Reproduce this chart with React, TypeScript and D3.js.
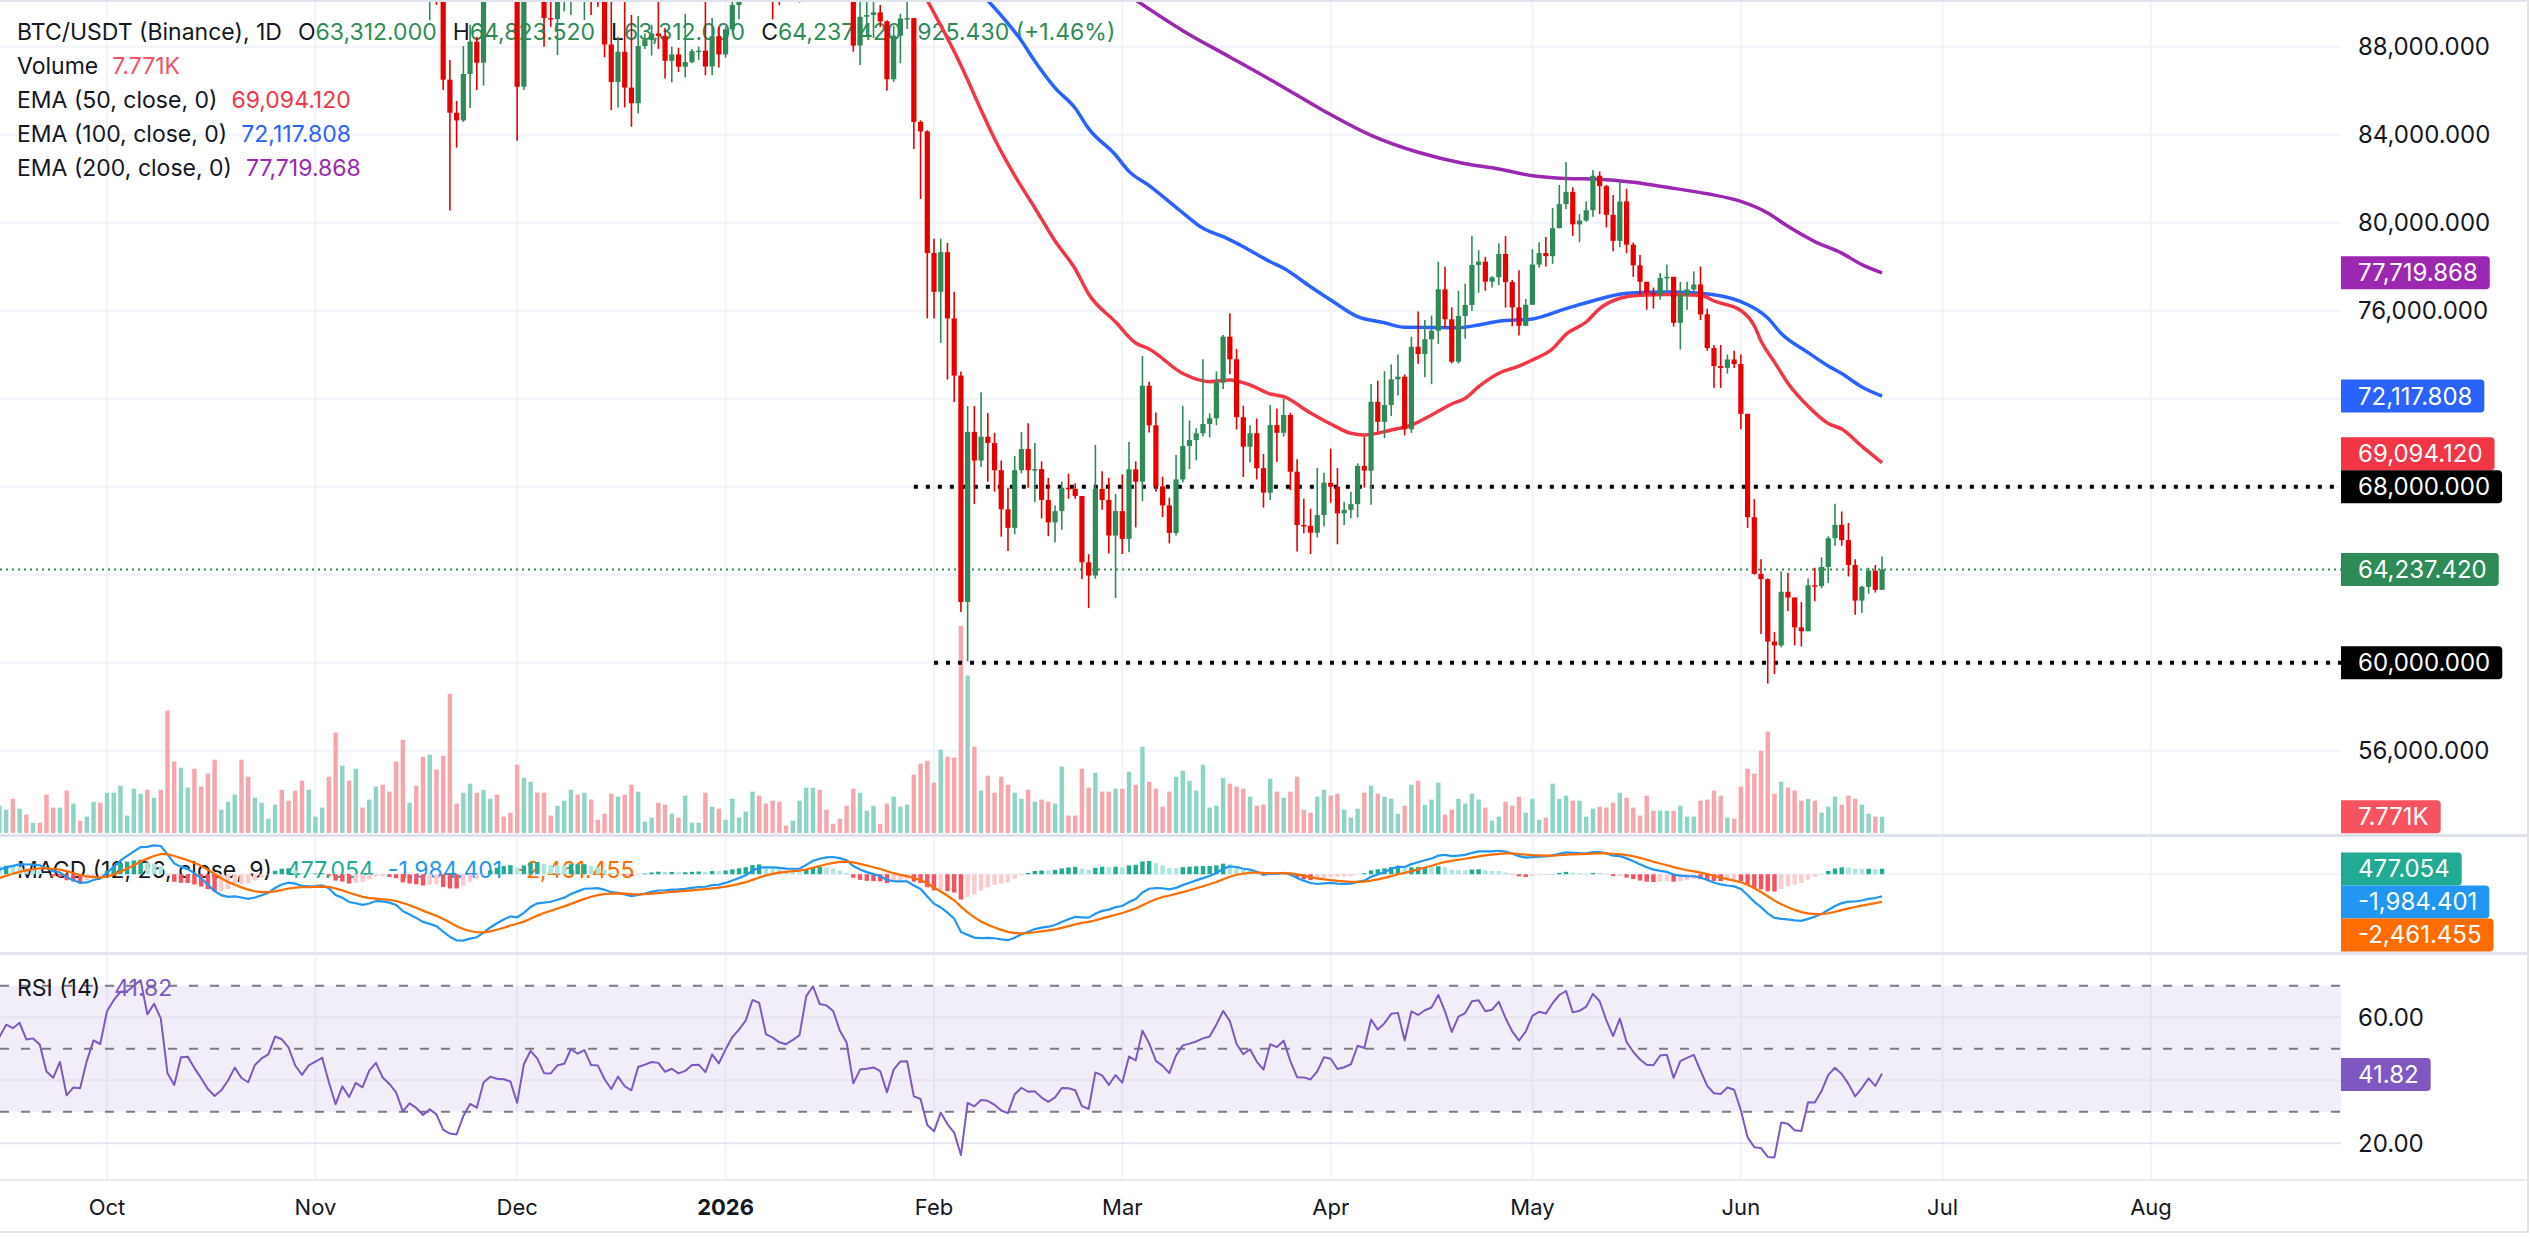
import React, { useEffect, useRef } from 'react';
import * as d3 from 'd3';

const W = 2530;
const H = 1253;

// daily BTC/USDT candles, first bar 2025-09-15, open of each bar = previous close
const firstDay = '2025-09-15';
const firstOpen = 115200;

// closes 2025-08-16 .. 2025-09-14, left of the window, only warm up MACD / RSI
const warmupCloses = [
  117400, 117500, 116300, 112900, 114300, 112500, 116900, 115400, 113500, 110100, 111800, 111300, 112600, 108400, 108800, 108300,
  109300, 111300, 111700, 110700, 110700, 110200, 111200, 112100, 111500, 113900, 115500, 116100, 115900, 115200,
];

const closes = [
  // Sep
  115400, 116800, 116500, 117100, 115700, 115800, 115300, 112700, 112000, 113300, 109000, 109700, 109600, 112100, 114400, 114000,
  // Oct
  118600, 120600, 122300, 122400, 123500, 124700, 121400, 123300, 121700, 113200, 110600, 115200, 115300, 113000, 110800, 108200,
  106400, 107200, 108600, 110500, 108400, 107500, 110000, 111000, 111600, 114500, 114100, 112900, 110000, 108300, 109600,
  // Nov
  110100, 110600, 106500, 101500, 103900, 101300, 103300, 102300, 104700, 105900, 103000, 101600, 99700, 94500, 95600, 94300,
  92200, 92900, 91500, 86500, 85000, 84650, 86760, 88230, 87270, 90500, 91300, 90900, 90800, 90400,
  // Dec
  86180, 91300, 93500, 92100, 89300, 89250, 90400, 90600, 92700, 92000, 92500, 90300, 90250, 88100, 86400, 87770,
  86140, 85430, 88030, 88300, 88600, 88490, 87360, 87650, 87090, 87300, 87800, 87820, 87100, 88480, 87650,
  // Jan
  88790, 89890, 90600, 91500, 93900, 93700, 91300, 91000, 90600, 90450, 90800, 91200, 95400, 96900, 95600, 95500,
  95100, 93600, 92600, 88050, 89360, 89440, 89560, 89150, 86520, 88500, 89280, 89300, 84580, 84150, 78620,
  // Feb
  76860, 78660, 75650, 73050, 62760, 70490, 69190, 70270, 69990, 68750, 66970, 66130, 68750, 69710, 68750, 68800,
  67400, 66380, 66890, 67950, 67900, 67580, 64560, 63960, 67900, 67400, 65780, 66890,
  // Mar
  65630, 68790, 68230, 72590, 70790, 68010, 67150, 65900, 68330, 69850, 70120, 70430, 70850, 71110, 72730, 74820,
  73790, 71160, 69820, 70430, 68840, 67730, 70800, 70450, 71260, 68680, 66260, 66220, 65910, 66710, 68180,
  // Apr
  68000, 66790, 66950, 67210, 68940, 68730, 71860, 70950, 71710, 72880, 73000, 70610, 74360, 74030, 74700, 75090,
  76970, 75610, 73680, 75760, 76260, 78080, 78230, 77320, 77520, 78580, 77300, 76150, 75313, 76270,
  // May
  78097, 78619, 78480, 79750, 80845, 81402, 79923, 80097, 80567, 82133, 81663, 80358, 79175, 80967, 79001, 78062,
  77314, 76792, 76740, 77488, 77540, 75452, 76705, 76966, 77192, 75835, 74304, 73487, 73400, 73782, 73574,
  // Jun
  71312, 66615, 64040, 63797, 60962, 60788, 63223, 62962, 61605, 61431, 63519, 63480, 64354, 65659, 66267, 65572,
  64441, 62823, 63449, 64180, 63312, 64237.42,
];

const highs = [
  116800, 117000, 117300, 117900, 117500, 116200, 116000, 115400, 113500, 114000, 113400, 110300, 109800, 112300, 114500, 114800,
  118700, 121000, 123900, 122900, 125700, 126200, 125100, 124200, 123800, 122500, 113400, 115800, 116000, 115700, 113600, 111800,
  109300, 107500, 109400, 111700, 114000, 109000, 111300, 112000, 111900, 115000, 116400, 116000, 113600, 111600, 111200,
  110600, 111200, 110800, 106600, 104500, 104200, 104100, 103400, 105000, 106700, 107000, 105300, 104000, 99800, 96800, 96600,
  96000, 93800, 93200, 93200, 87400, 85530, 88030, 89000, 88450, 90650, 91950, 93100, 91200, 92000,
  91000, 92300, 94100, 94000, 92700, 90300, 91800, 92300, 94600, 94500, 93500, 92800, 90600, 90500, 90050, 88450,
  90300, 89440, 89400, 88600, 89000, 90500, 88850, 88000, 87950, 89490, 87900, 88000, 90300, 89300, 88900,
  88900, 90900, 91000, 91800, 94700, 94400, 93700, 91600, 91700, 90800, 91200, 92400, 96200, 97900, 97200, 95900,
  95600, 95500, 93400, 92800, 90400, 90300, 91000, 89900, 89200, 88950, 89500, 90500, 89300, 84650, 84200,
  79270, 79270, 79080, 76860, 73240, 71670, 71670, 72290, 71350, 70450, 69190, 67950, 69400, 70490, 70880, 69990,
  69150, 68400, 67140, 68230, 68590, 68150, 67580, 64930, 69900, 68700, 68410, 67670,
  68560, 70030, 69150, 73940, 72770, 71370, 68450, 67500, 69440, 71670, 71010, 70660, 73790, 71330, 73240, 74900,
  75880, 74260, 71680, 70790, 71100, 69490, 71710, 71560, 72010, 71350, 69250, 67450, 67000, 68850, 68630,
  69730, 68850, 67320, 67770, 69060, 70270, 72670, 72820, 73250, 73560, 74010, 73100, 74820, 75960, 75580, 75780,
  78230, 78000, 76150, 76900, 77230, 79390, 78750, 78450, 77570, 79070, 79390, 77400, 77836, 76531,
  78793, 79106, 79349, 80671, 81715, 82759, 81611, 80393, 80967, 82394, 82324, 81715, 81263, 81924, 81541, 79100,
  78532, 77300, 77053, 77714, 78097, 77540, 77314, 77314, 77784, 78010, 76096, 74443, 74443, 74009, 74183,
  74009, 71312, 67433, 64702, 63832, 61397, 64145, 64093, 62962, 62753, 63832, 64319, 64789, 65746, 67225, 66875,
  66355, 64702, 63500, 64319, 64441, 64823.52,
];

const lows = [
  114400, 114800, 114700, 116300, 115100, 115500, 115000, 112000, 111500, 111100, 108600, 108600, 109000, 109200, 111600, 112700,
  113900, 118300, 119300, 121000, 122100, 123100, 120600, 121100, 119700, 102000, 109600, 109700, 113600, 110000, 110200, 107500,
  103500, 106400, 106100, 107500, 107400, 106700, 107500, 109700, 110700, 111300, 113800, 112200, 109300, 106300, 108700,
  109400, 109500, 105300, 98900, 98900, 100300, 99300, 101500, 101400, 104300, 102500, 100800, 98000, 94000, 94600, 93000,
  91200, 89200, 89900, 86030, 80550, 83410, 84580, 85210, 86030, 86230, 90100, 90200, 90300, 90300,
  83730, 86030, 90900, 91000, 88000, 88900, 87620, 89600, 89440, 91600, 89213, 89440, 89800, 87520, 85120, 85240,
  85240, 84360, 84960, 87900, 87600, 87900, 86560, 86380, 86850, 86610, 87250, 87400, 86700, 86700, 87060,
  87500, 88700, 89245, 90500, 91400, 91300, 90600, 89245, 89880, 90100, 90200, 90000, 91100, 94400, 95100, 94300,
  94900, 93500, 91900, 87770, 87170, 88500, 88400, 88900, 86000, 86400, 87250, 88800, 83350, 81080, 75650,
  75650, 74535, 72870, 71850, 62300, 60070, 67210, 68900, 68230, 67770, 65730, 65080, 65840, 68610, 67950, 67290,
  66560, 65750, 65480, 66040, 67450, 67450, 63810, 62480, 63810, 66950, 64960, 62940,
  64940, 65020, 66150, 67340, 70460, 67770, 66620, 65420, 65780, 68200, 68800, 69200, 70280, 70240, 70800, 72440,
  73110, 70600, 68440, 69100, 68330, 67050, 67390, 69130, 70280, 67840, 65060, 65880, 64940, 65690, 66190,
  67270, 65380, 66260, 66570, 66600, 67960, 67180, 70500, 70210, 71210, 72150, 70330, 70450, 73590, 72980, 72660,
  74490, 75230, 73600, 73600, 74730, 75990, 76820, 76910, 77050, 77160, 76140, 75290, 74878, 75313,
  76270, 77957, 78010, 78132, 79750, 80619, 79401, 79106, 80045, 80271, 80393, 79784, 78706, 78880, 78619, 77540,
  76740, 76044, 76096, 76497, 76879, 75278, 74235, 76044, 76792, 75574, 74183, 72495, 72495, 73139, 73400,
  70617, 66128, 64005, 61310, 59048, 59483, 60701, 62353, 60788, 60736, 61431, 62788, 63397, 63623, 65311, 65311,
  63919, 62179, 62266, 63136, 63188, 63312,
];

// volume, thousands of BTC
const volumes = [
  13.0, 11.1, 16.3, 11.6, 8.7, 4.9, 4.9, 18.3, 12.1, 12.1, 20.2, 14.0, 5.9, 7.8, 14.9, 14.4,
  19.2, 19.2, 22.5, 8.3, 21.1, 18.7, 20.6, 16.8, 20.6, 58.3, 34.0, 31.1, 21.6, 30.6, 22.1, 28.3,
  34.9, 11.1, 14.9, 18.3, 34.9, 26.8, 16.8, 14.4, 6.8, 13.5, 20.6, 15.4, 20.2, 24.9, 20.6,
  7.8, 12.1, 26.8, 47.8, 32.1, 24.9, 30.6, 12.1, 15.9, 22.1, 23.0, 19.7, 34.0, 44.4, 14.4, 22.5,
  36.3, 37.3, 30.2, 36.8, 66.3, 14.0, 19.2, 23.5, 19.2, 20.6, 16.3, 18.3, 7.8, 9.7,
  32.5, 26.3, 24.4, 19.2, 19.2, 8.3, 13.0, 15.4, 20.6, 18.3, 19.2, 15.9, 6.3, 9.2, 18.7, 17.3,
  18.3, 23.0, 19.7, 5.4, 7.3, 14.4, 13.5, 9.2, 7.3, 17.8, 4.9, 4.9, 19.2, 12.5, 11.6,
  6.3, 16.3, 7.3, 10.2, 19.7, 17.8, 14.0, 15.4, 14.9, 3.5, 5.9, 15.4, 21.6, 21.6, 20.6, 11.1,
  4.4, 6.8, 13.0, 21.1, 19.2, 10.6, 13.0, 4.4, 14.0, 17.3, 12.5, 13.5, 27.8, 33.0, 34.4,
  24.0, 39.7, 36.3, 35.9, 98.6, 75.0, 41.1, 20.2, 27.3, 19.2, 26.8, 23.0, 19.2, 16.3, 20.6, 14.9,
  15.9, 14.9, 14.0, 31.6, 8.3, 8.3, 30.6, 21.6, 28.7, 19.7, 19.7, 21.1,
  21.1, 29.2, 23.0, 41.1, 24.4, 21.1, 12.5, 19.7, 26.8, 29.7, 24.9, 20.2, 32.5, 12.1, 13.0, 26.3,
  23.5, 22.1, 21.1, 17.3, 13.0, 13.5, 25.9, 19.7, 16.8, 19.7, 26.8, 11.1, 9.7, 17.3, 20.6,
  17.8, 18.7, 11.1, 7.3, 11.6, 19.2, 22.5, 18.7, 17.3, 16.3, 9.2, 13.0, 23.0, 24.9, 13.5, 15.9,
  24.0, 8.7, 11.1, 16.3, 14.0, 18.7, 15.9, 12.1, 5.9, 7.8, 14.9, 13.0, 17.3, 9.7,
  16.3, 6.3, 7.3, 23.5, 16.3, 17.8, 15.4, 15.4, 7.8, 11.6, 12.5, 12.1, 14.4, 19.2, 16.8, 12.1,
  8.3, 17.8, 10.6, 10.6, 10.6, 10.6, 13.0, 7.8, 7.8, 15.4, 15.9, 20.2, 17.8, 7.3, 6.8,
  22.1, 30.6, 28.3, 39.2, 48.3, 18.7, 24.4, 21.6, 20.2, 15.4, 16.3, 15.4, 9.7, 12.5, 17.3, 13.5,
  17.8, 16.3, 13.5, 9.2, 7.8, 7.771,
];

// moving averages
const ema50 = [
  ['2026-01-31', 90100], ['2026-02-05', 87155], ['2026-02-08', 85123], ['2026-02-10', 83814], ['2026-02-13', 82145],
  ['2026-02-16', 80668], ['2026-02-19', 79168], ['2026-02-22', 77895], ['2026-02-24', 76759], ['2026-02-28', 75486],
  ['2026-03-03', 74532], ['2026-03-05', 74259], ['2026-03-10', 73145], ['2026-03-14', 72773], ['2026-03-17', 72850],
  ['2026-03-20', 72623], ['2026-03-23', 72214], ['2026-03-25', 72091], ['2026-03-29', 71350], ['2026-04-01', 70850],
  ['2026-04-04', 70427], ['2026-04-06', 70350], ['2026-04-10', 70577], ['2026-04-13', 70805], ['2026-04-16', 71260],
  ['2026-04-19', 71759], ['2026-04-21', 72018], ['2026-04-23', 72545], ['2026-04-26', 73155], ['2026-04-29', 73486],
  ['2026-05-01', 73760], ['2026-05-04', 74268], ['2026-05-06', 74932], ['2026-05-09', 75486], ['2026-05-11', 76095],
  ['2026-05-14', 76568], ['2026-05-17', 76705], ['2026-05-21', 76741], ['2026-05-26', 76705], ['2026-05-28', 76441],
  ['2026-06-01', 76009], ['2026-06-03', 75314], ['2026-06-04', 74618], ['2026-06-06', 73664], ['2026-06-08', 72705],
  ['2026-06-11', 71659], ['2026-06-14', 70877], ['2026-06-16', 70618], ['2026-06-19', 69836], ['2026-06-22', 69094.12],
];
const ema100 = [
  ['2026-02-09', 90100], ['2026-02-14', 88268], ['2026-02-16', 87341], ['2026-02-19', 86132], ['2026-02-22', 85205],
  ['2026-02-24', 84277], ['2026-02-28', 83077], ['2026-03-02', 82332], ['2026-03-05', 81682], ['2026-03-10', 80450],
  ['2026-03-13', 79745], ['2026-03-16', 79364], ['2026-03-19', 78909], ['2026-03-23', 78227], ['2026-03-25', 77927],
  ['2026-03-29', 77091], ['2026-04-01', 76486], ['2026-04-05', 75727], ['2026-04-09', 75455], ['2026-04-12', 75245],
  ['2026-04-20', 75227], ['2026-04-23', 75350], ['2026-04-26', 75523], ['2026-05-01', 75627], ['2026-05-06', 76095],
  ['2026-05-11', 76532], ['2026-05-15', 76791], ['2026-05-21', 76845], ['2026-05-26', 76791], ['2026-06-01', 76409],
  ['2026-06-05', 75664], ['2026-06-07', 74968], ['2026-06-11', 74095], ['2026-06-14', 73486], ['2026-06-16', 73141],
  ['2026-06-19', 72532], ['2026-06-22', 72117.808],
];
const ema200 = [
  ['2026-03-03', 90120], ['2026-03-10', 88730], ['2026-03-17', 87530], ['2026-03-24', 86330], ['2026-03-31', 85080],
  ['2026-04-07', 83970], ['2026-04-14', 83200], ['2026-04-21', 82680], ['2026-04-26', 82445], ['2026-05-01', 82132],
  ['2026-05-06', 82009], ['2026-05-11', 81977], ['2026-05-16', 81836], ['2026-05-21', 81609], ['2026-05-27', 81314],
  ['2026-06-01', 80968], ['2026-06-05', 80445], ['2026-06-08', 79836], ['2026-06-12', 79141], ['2026-06-16', 78618],
  ['2026-06-19', 78095], ['2026-06-22', 77719.868],
];

const priceTicks = [56000, 60000, 64000, 68000, 72000, 76000, 80000, 84000, 88000];
const rsiTicks = [20, 40, 60];
const rsiLevels = [30, 50, 70];
const levelLines = [
  { price: 68000, from: '2026-01-29' },
  { price: 60000, from: '2026-02-01' },
];
const lastPrice = 64237.42;
const lastVolume = 7.771;

const headerValues = ['63,312.000', '64,823.520', '63,312.000', '64,237.420'];
const headerKeys = ['O', 'H', 'L', 'C'];
const headerChange = '925.430 (+1.46%)';
const emaLegend = [
  { name: 'EMA (50, close, 0)', value: '69,094.120', num: 69094.12, color: '#f23645' },
  { name: 'EMA (100, close, 0)', value: '72,117.808', num: 72117.808, color: '#2962ff' },
  { name: 'EMA (200, close, 0)', value: '77,719.868', num: 77719.868, color: '#9c27b0' },
];
const macdLegend = [
  { value: '477.054', num: 477.054, color: '#22ab94' },
  { value: '-1,984.401', num: -1984.401, color: '#2196f3' },
  { value: '-2,461.455', num: -2461.455, color: '#ff6d00' },
];
const rsiValue = 41.82;

const UP = '#2e8b57';
const DOWN = '#e60000';
const FONT = 'Inter, "Noto Sans", sans-serif';
const TEXT = '#131722';
const GRID = '#f0f3fa';
const BORDER = '#e0e3eb';

const App = () => {
  const svgRef = useRef(null);

  useEffect(() => {
    const svg = d3.select(svgRef.current);
    svg.selectAll('*').remove();

    const plotR = 2341;
    const axisR = 2528;
    const parse = d3.utcParse('%Y-%m-%d');
    const day0 = parse(firstDay);
    const n = Math.min(closes.length, highs.length, lows.length, volumes.length);
    const dates = d3.range(n).map(i => d3.utcDay.offset(day0, i));
    const opens = d3.range(n).map(i => (i === 0 ? firstOpen : closes[i - 1]));

    const x = d3.scaleUtc().domain([parse('2025-10-01'), parse('2026-08-01')]).range([107, 2151]);
    const yP = d3.scaleLinear().domain([56000, 88000]).range([750.7, 46.7]);
    const yV = d3.scaleLinear().domain([0, 100]).range([833, 623]);
    const yM = d3.scaleLinear().domain([-5600, 2200]).range([936.9, 849.6]);
    const yR = d3.scaleLinear().domain([30, 70]).range([1111.7, 985.7]);

    // indicators from closes
    const all = warmupCloses.concat(closes.slice(0, n));
    const allDates = all.map((_, i) => d3.utcDay.offset(day0, i - warmupCloses.length));
    const ema = (src, len) => {
      const k = 2 / (len + 1);
      let e = src[0];
      return src.map((v, i) => (e = i === 0 ? v : v * k + e * (1 - k)));
    };
    const e12 = ema(all, 12);
    const e26 = ema(all, 26);
    const macd = all.map((_, i) => e12[i] - e26[i]);
    const signal = ema(macd, 9);
    const hist = macd.map((m, i) => m - signal[i]);
    const rsi = all.map(() => null);
    let ag = 0;
    let al = 0;
    for (let i = 1; i < all.length; i++) {
      const ch = all[i] - all[i - 1];
      const g = Math.max(ch, 0);
      const l = Math.max(-ch, 0);
      if (i <= 14) {
        ag += g / 14;
        al += l / 14;
        if (i === 14) rsi[i] = 100 - 100 / (1 + ag / al);
      } else {
        ag = (ag * 13 + g) / 14;
        al = (al * 13 + l) / 14;
        rsi[i] = 100 - 100 / (1 + ag / al);
      }
    }

    const defs = svg.append('defs');
    const clip = (id, y0, y1) =>
      defs.append('clipPath').attr('id', id).append('rect').attr('x', 0).attr('y', y0).attr('width', plotR).attr('height', y1 - y0);
    clip('clipPrice', 0, 834);
    clip('clipMacd', 837, 952);
    clip('clipRsi', 955, 1179);

    svg.append('rect').attr('width', W).attr('height', H).attr('fill', '#fff');

    // grid
    const months = d3.utcMonth.range(parse('2025-10-01'), parse('2026-08-02'));
    svg.append('g').selectAll('line').data(months).join('line')
      .attr('x1', d => x(d)).attr('x2', d => x(d)).attr('y1', 0).attr('y2', 1180)
      .attr('stroke', GRID).attr('stroke-width', 2);
    svg.append('g').selectAll('line').data(priceTicks).join('line')
      .attr('x1', 0).attr('x2', plotR).attr('y1', d => yP(d)).attr('y2', d => yP(d))
      .attr('stroke', GRID).attr('stroke-width', 2);
    svg.append('line').attr('x1', 0).attr('x2', plotR).attr('y1', yM(0)).attr('y2', yM(0))
      .attr('stroke', GRID).attr('stroke-width', 2);

    // RSI band and levels
    svg.append('rect').attr('x', 0).attr('width', plotR).attr('y', yR(70)).attr('height', yR(30) - yR(70))
      .attr('fill', 'rgba(126,87,194,0.1)');
    svg.append('g').selectAll('line').data(rsiTicks).join('line')
      .attr('x1', 0).attr('x2', plotR).attr('y1', d => yR(d)).attr('y2', d => yR(d))
      .attr('stroke', '#e6e3ef').attr('stroke-width', 2);
    svg.append('g').selectAll('line').data(rsiLevels).join('line')
      .attr('x1', 0).attr('x2', plotR).attr('y1', d => yR(d)).attr('y2', d => yR(d))
      .attr('stroke', '#787b86').attr('stroke-width', 2).attr('stroke-dasharray', '9 12');

    // legends (drawn under the series, as in the source)
    const legend = svg.append('g').attr('font-family', FONT).attr('font-size', 23).attr('fill', TEXT);
    const head = legend.append('text').attr('x', 17).attr('y', 32).attr('dy', '0.35em');
    head.append('tspan').text('BTC/USDT (Binance), 1D');
    headerKeys.forEach((k, i) => {
      head.append('tspan').attr('dx', 16).text(k);
      head.append('tspan').attr('fill', UP).text(headerValues[i]);
    });
    head.append('tspan').attr('dx', 16).attr('fill', UP).text(headerChange);
    const vol = legend.append('text').attr('x', 17).attr('y', 66).attr('dy', '0.35em');
    vol.append('tspan').text('Volume');
    vol.append('tspan').attr('dx', 14).attr('fill', '#f7525f').text('7.771K');
    emaLegend.forEach((e, i) => {
      const t = legend.append('text').attr('x', 17).attr('y', 100 + i * 34).attr('dy', '0.35em');
      t.append('tspan').text(e.name);
      t.append('tspan').attr('dx', 14).attr('fill', e.color).text(e.value);
    });
    const ml = legend.append('text').attr('x', 17).attr('y', 870).attr('dy', '0.35em');
    ml.append('tspan').text('MACD (12, 26, close, 9)');
    macdLegend.forEach(m => ml.append('tspan').attr('dx', 14).attr('fill', m.color).text(m.value));
    const rl = legend.append('text').attr('x', 17).attr('y', 988).attr('dy', '0.35em');
    rl.append('tspan').text('RSI (14)');
    rl.append('tspan').attr('dx', 14).attr('fill', '#7e57c2').text(rsiValue.toFixed(2));

    // price pane
    const price = svg.append('g').attr('clip-path', 'url(#clipPrice)');
    price.append('g').selectAll('rect').data(d3.range(n)).join('rect')
      .attr('x', i => x(dates[i]) - 2.2).attr('width', 4.4)
      .attr('y', i => yV(volumes[i])).attr('height', i => yV(0) - yV(volumes[i]))
      .attr('fill', i => (closes[i] >= opens[i] ? '#8dd4c6' : '#f7a6ac'));

    const emaLine = d3.line().x(d => x(parse(d[0]))).y(d => yP(d[1])).curve(d3.curveMonotoneX);
    [[ema200, '#9c27b0'], [ema100, '#2962ff'], [ema50, '#f23645']].forEach(([pts, c]) => {
      price.append('path').attr('d', emaLine(pts)).attr('fill', 'none').attr('stroke', c)
        .attr('stroke-width', 3.5).attr('stroke-linejoin', 'round');
    });

    levelLines.forEach(l => {
      price.append('line').attr('x1', x(parse(l.from))).attr('x2', plotR)
        .attr('y1', yP(l.price)).attr('y2', yP(l.price))
        .attr('stroke', '#000').attr('stroke-width', 4).attr('stroke-dasharray', '4 8');
    });
    price.append('line').attr('x1', 0).attr('x2', plotR).attr('y1', yP(lastPrice)).attr('y2', yP(lastPrice))
      .attr('stroke', UP).attr('stroke-width', 2).attr('stroke-dasharray', '2 4');

    const candles = price.append('g').selectAll('g').data(d3.range(n)).join('g')
      .attr('fill', i => (closes[i] >= opens[i] ? UP : DOWN))
      .attr('stroke', i => (closes[i] >= opens[i] ? UP : DOWN));
    candles.append('line')
      .attr('x1', i => x(dates[i])).attr('x2', i => x(dates[i]))
      .attr('y1', i => yP(Math.max(highs[i], opens[i], closes[i])))
      .attr('y2', i => yP(Math.min(lows[i], opens[i], closes[i])))
      .attr('stroke-width', 1.6);
    candles.append('rect')
      .attr('stroke', 'none')
      .attr('x', i => x(dates[i]) - 2.6).attr('width', 5.2)
      .attr('y', i => yP(Math.max(opens[i], closes[i])))
      .attr('height', i => Math.max(1.5, Math.abs(yP(opens[i]) - yP(closes[i]))));

    // MACD pane
    const mg = svg.append('g').attr('clip-path', 'url(#clipMacd)');
    const idx = d3.range(1, all.length);
    mg.append('g').selectAll('rect').data(idx).join('rect')
      .attr('x', i => x(allDates[i]) - 2.2).attr('width', 4.4)
      .attr('y', i => Math.min(yM(0), yM(hist[i])))
      .attr('height', i => Math.abs(yM(hist[i]) - yM(0)))
      .attr('fill', i => {
        const h = hist[i];
        const p = hist[i - 1];
        if (h >= 0) return h > p ? '#22ab94' : '#ace5dc';
        return h < p ? '#f7525f' : '#fccbcd';
      });
    const lineM = src => d3.line().x((_, i) => x(allDates[i])).y(v => yM(v))(src);
    mg.append('path').attr('d', lineM(macd)).attr('fill', 'none').attr('stroke', '#2196f3').attr('stroke-width', 2.2);
    mg.append('path').attr('d', lineM(signal)).attr('fill', 'none').attr('stroke', '#ff6d00').attr('stroke-width', 2.2);

    // RSI pane
    const rg = svg.append('g').attr('clip-path', 'url(#clipRsi)');
    const rsiLine = d3.line().defined(d => d[1] != null).x(d => x(d[0])).y(d => yR(d[1]));
    rg.append('path').attr('d', rsiLine(all.map((_, i) => [allDates[i], rsi[i]])))
      .attr('fill', 'none').attr('stroke', '#7e57c2').attr('stroke-width', 2).attr('stroke-linejoin', 'round');

    // pane borders
    const border = svg.append('g').attr('stroke', BORDER);
    border.append('line').attr('x1', 0).attr('x2', axisR).attr('y1', 1).attr('y2', 1).attr('stroke-width', 2);
    border.append('line').attr('x1', 0).attr('x2', axisR).attr('y1', 835.5).attr('y2', 835.5).attr('stroke-width', 3);
    border.append('line').attr('x1', 0).attr('x2', axisR).attr('y1', 953.5).attr('y2', 953.5).attr('stroke-width', 3);
    border.append('line').attr('x1', 0).attr('x2', axisR).attr('y1', 1180).attr('y2', 1180).attr('stroke-width', 1.5);
    border.append('line').attr('x1', 0).attr('x2', axisR).attr('y1', 1232).attr('y2', 1232).attr('stroke-width', 2);
    border.append('line').attr('x1', axisR).attr('x2', axisR).attr('y1', 0).attr('y2', 1233).attr('stroke-width', 2);

    // value tags on the right scale
    const tagH = 33;
    const placeTags = tags => {
      const fixed = tags.filter(t => t.fixed);
      tags.filter(t => !t.fixed).forEach(t => {
        fixed.forEach(f => {
          if (Math.abs(t.y - f.y) < tagH) t.y = t.y < f.y ? f.y - tagH : f.y + tagH;
        });
      });
      const free = tags.filter(t => !t.fixed).sort((a, b) => a.y - b.y);
      for (let i = 1; i < free.length; i++) {
        if (free[i].y - free[i - 1].y < tagH) free[i].y = free[i - 1].y + tagH;
      }
      return tags;
    };
    const priceTags = placeTags([
      { y: yP(emaLegend[2].num), text: emaLegend[2].value, color: '#9c27b0' },
      { y: yP(emaLegend[1].num), text: emaLegend[1].value, color: '#2962ff' },
      { y: yP(emaLegend[0].num), text: emaLegend[0].value, color: '#f23645' },
      { y: yP(68000), text: '68,000.000', color: '#000', fixed: true },
      { y: yP(lastPrice), text: '64,237.420', color: UP },
      { y: yP(60000), text: '60,000.000', color: '#000', fixed: true },
      { y: yV(lastVolume), text: '7.771K', color: '#f7525f' },
    ]);
    const macdTags = placeTags(macdLegend.map(m => ({ y: yM(m.num), text: m.value, color: m.color })));
    const rsiTags = [{ y: yR(rsiValue), text: rsiValue.toFixed(2), color: '#7e57c2' }];

    const axis = svg.append('g').attr('font-family', FONT).attr('font-size', 24);
    const near = (y, tags) => tags.some(t => Math.abs(t.y - y) < 30);
    axis.selectAll('text.p').data(priceTicks.filter(v => !near(yP(v), priceTags))).join('text')
      .attr('x', 2358).attr('y', d => yP(d)).attr('dy', '0.35em').attr('fill', TEXT)
      .text(d => d3.format(',.3f')(d));
    axis.selectAll('text.r').data(rsiTicks.filter(v => !near(yR(v), rsiTags))).join('text')
      .attr('x', 2358).attr('y', d => yR(d)).attr('dy', '0.35em').attr('fill', TEXT)
      .text(d => d3.format('.2f')(d));

    priceTags.concat(macdTags, rsiTags).forEach(t => {
      const g = axis.append('g');
      const path = g.append('path').attr('fill', t.color);
      const label = g.append('text').attr('x', 2358).attr('y', t.y).attr('dy', '0.35em').attr('fill', '#fff').text(t.text);
      const w = label.node().getComputedTextLength() + 29;
      const x0 = plotR;
      const x1 = plotR + w;
      const y0 = t.y - tagH / 2;
      const y1 = t.y + tagH / 2;
      const r = 4;
      path.attr('d', `M${x0},${y0}H${x1 - r}Q${x1},${y0} ${x1},${y0 + r}V${y1 - r}Q${x1},${y1} ${x1 - r},${y1}H${x0}Z`);
    });

    // time axis
    svg.append('g').attr('font-family', FONT).attr('font-size', 22).attr('fill', TEXT)
      .selectAll('text').data(months).join('text')
      .attr('x', d => x(d)).attr('y', 1207).attr('dy', '0.35em').attr('text-anchor', 'middle')
      .attr('font-weight', d => (d.getUTCMonth() === 0 ? 700 : 400))
      .text(d => (d.getUTCMonth() === 0 ? d3.utcFormat('%Y')(d) : d3.utcFormat('%b')(d)));
  }, []);

  return (
    <svg
      ref={svgRef}
      width={W}
      height={H}
      style={{ display: 'block', position: 'absolute', left: 0, top: 0 }}
    />
  );
};

export default App;
